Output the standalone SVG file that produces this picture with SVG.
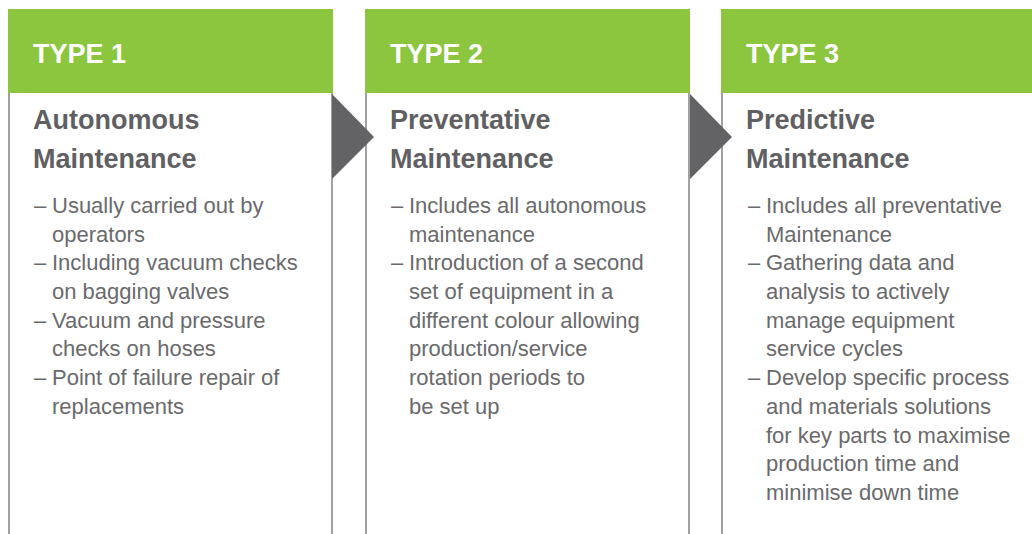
<svg xmlns="http://www.w3.org/2000/svg" width="1032" height="534" viewBox="0 0 1032 534">
<style>
.hdr{fill:#8cc63f}
.side{stroke:#7a7a7c;stroke-width:1.4;fill:none}
.ttl{font-family:"Liberation Sans",Arial,sans-serif;font-weight:bold;font-size:27px;fill:#ffffff}
.sub{font-family:"Liberation Sans",Arial,sans-serif;font-weight:bold;font-size:27px;fill:#606062}
.body{font-family:"Liberation Sans",Arial,sans-serif;font-size:22px;fill:#6a6a6c}
.arr{fill:#636365}
</style>
<rect width="1032" height="534" fill="#ffffff"/>
<g id="type1">
<line class="side" x1="9" y1="93" x2="9" y2="534"/>
<line class="side" x1="332" y1="93" x2="332" y2="534"/>
<rect class="hdr" x="8" y="9" width="325" height="84"/>
<text class="ttl" x="33" y="63">TYPE 1</text>
<text class="sub" x="33" y="129">Autonomous</text>
<text class="sub" x="33" y="168">Maintenance</text>
<g class="body">
<text x="34" y="213">–</text><text x="52" y="213">Usually carried out by</text>
<text x="52" y="242">operators</text>
<text x="34" y="270">–</text><text x="52" y="270">Including vacuum checks</text>
<text x="52" y="299">on bagging valves</text>
<text x="34" y="328">–</text><text x="52" y="328">Vacuum and pressure</text>
<text x="52" y="356">checks on hoses</text>
<text x="34" y="385">–</text><text x="52" y="385">Point of failure repair of</text>
<text x="52" y="414">replacements</text>
</g>
</g>
<g id="type2">
<line class="side" x1="366" y1="93" x2="366" y2="534"/>
<line class="side" x1="689" y1="93" x2="689" y2="534"/>
<rect class="hdr" x="365" y="9" width="325" height="84"/>
<text class="ttl" x="390" y="63">TYPE 2</text>
<text class="sub" x="390" y="129">Preventative</text>
<text class="sub" x="390" y="168">Maintenance</text>
<g class="body">
<text x="391" y="213">–</text><text x="409" y="213">Includes all autonomous</text>
<text x="409" y="242">maintenance</text>
<text x="391" y="270">–</text><text x="409" y="270">Introduction of a second</text>
<text x="409" y="299">set of equipment in a</text>
<text x="409" y="328">different colour allowing</text>
<text x="409" y="356">production/service</text>
<text x="409" y="385">rotation periods to</text>
<text x="409" y="414">be set up</text>
</g>
</g>
<g id="type3">
<line class="side" x1="722" y1="93" x2="722" y2="534"/>
<rect class="hdr" x="721" y="9" width="311" height="84"/>
<text class="ttl" x="746" y="63">TYPE 3</text>
<text class="sub" x="746" y="129">Predictive</text>
<text class="sub" x="746" y="168">Maintenance</text>
<g class="body">
<text x="748" y="213">–</text><text x="766" y="213">Includes all preventative</text>
<text x="766" y="242">Maintenance</text>
<text x="748" y="270">–</text><text x="766" y="270">Gathering data and</text>
<text x="766" y="299">analysis to actively</text>
<text x="766" y="328">manage equipment</text>
<text x="766" y="356">service cycles</text>
<text x="748" y="385">–</text><text x="766" y="385">Develop specific process</text>
<text x="766" y="414">and materials solutions</text>
<text x="766" y="443">for key parts to maximise</text>
<text x="766" y="471">production time and</text>
<text x="766" y="500">minimise down time</text>
</g>
</g>
<g id="connectors">
<polygon class="arr" points="332,94 374,137 332,179"/>
<polygon class="arr" points="690,94 732,137 690,179"/>
</g>
</svg>
